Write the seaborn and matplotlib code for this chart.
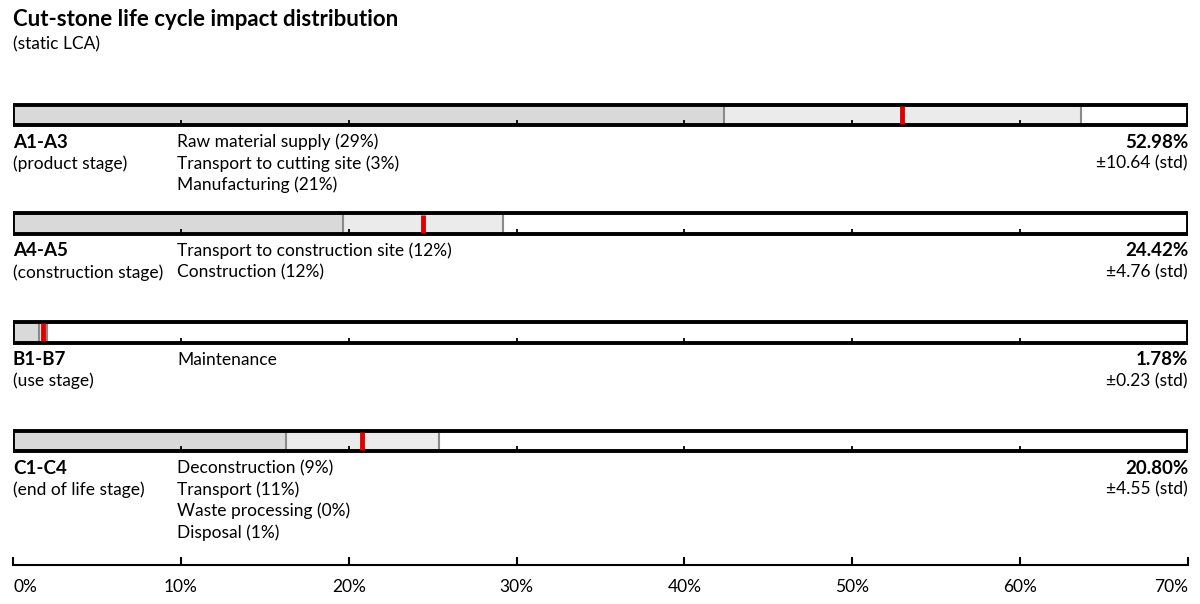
import matplotlib
matplotlib.use("Agg")
import matplotlib.pyplot as plt
import seaborn as sns
import pandas as pd

# life cycle stages, mean share of total impact and its std (in %)
stages = ["A1-A3", "A4-A5", "B1-B7", "C1-C4"]
stage_names = ["(product stage)", "(construction stage)", "(use stage)", "(end of life stage)"]
means = [52.98, 24.42, 1.78, 20.80]
stds = [10.64, 4.76, 0.23, 4.55]
processes = [
    ["Raw material supply (29%)", "Transport to cutting site (3%)", "Manufacturing (21%)"],
    ["Transport to construction site (12%)", "Construction (12%)"],
    ["Maintenance"],
    ["Deconstruction (9%)", "Transport (11%)", "Waste processing (0%)", "Disposal (1%)"],
]
x_ticks = [0, 10, 20, 30, 40, 50, 60, 70]
x_max = 70

sns.set_theme(style="white")
plt.rcParams["font.family"] = ["Lato", "DejaVu Sans"]
plt.rcParams["text.color"] = "black"
plt.rcParams["xtick.color"] = "black"
plt.rcParams["xtick.labelcolor"] = "black"

df = pd.DataFrame({
    "pos": range(len(stages)),
    "mean": means,
    "low": [m - s for m, s in zip(means, stds)],
    "high": [m + s for m, s in zip(means, stds)],
    "full": [x_max] * len(stages),
})

fig = plt.figure(figsize=(12, 6.04), dpi=100)
ax = fig.add_axes([13 / 1200, 39 / 604, 1175 / 1200, 465 / 604])

bar_h = 0.19
common = dict(data=df, y="pos", orient="h", native_scale=True, width=bar_h, ax=ax)
sns.barplot(x="full", color="white", edgecolor="none", **common)
sns.barplot(x="high", color="#ebebeb", edgecolor="#8a8a8a", linewidth=1.5, **common)
sns.barplot(x="low", color="#d9d9d9", edgecolor="#8a8a8a", linewidth=1.5, **common)
# outline box on top
sns.barplot(x="full", fill=False, edgecolor="black", linewidth=2.8, **common)

# small ticks inside each bar
for p in df["pos"]:
    ax.vlines(x_ticks[1:-1], p + bar_h / 2 - 0.045, p + bar_h / 2, color="black", lw=1.3, zorder=5)
# mean marker
ax.vlines(df["mean"], df["pos"] - bar_h / 2 + 0.012, df["pos"] + bar_h / 2 - 0.012,
          color="#e00000", lw=3.5, zorder=6)

ax.set_xlim(0, x_max)
ax.set_ylim(4.141, -0.138)
ax.set_xticks(x_ticks)
ax.set_xticklabels([f"{t}%" for t in x_ticks], fontsize=12.5)
labels = ax.get_xticklabels()
labels[0].set_horizontalalignment("left")
labels[-1].set_horizontalalignment("right")
ax.set_yticks([])
ax.set_xlabel("")
ax.set_ylabel("")
for side in ["top", "left", "right"]:
    ax.spines[side].set_visible(False)
ax.spines["bottom"].set_linewidth(1.5)
ax.spines["bottom"].set_color("black")
ax.tick_params(axis="x", direction="in", length=6, width=1.5, color="black", pad=10, bottom=True)

line = 0.197
for i, p in enumerate(df["pos"]):
    y0 = p + 0.25
    ax.text(0, y0, stages[i], fontsize=13.5, fontweight="bold", va="center", ha="left")
    ax.text(0, y0 + line, stage_names[i], fontsize=12.5, va="center", ha="left")
    for k, name in enumerate(processes[i]):
        ax.text(9.77, y0 + k * line, name, fontsize=12.5, va="center", ha="left")
    ax.text(x_max, y0, f"{means[i]:.2f}%", fontsize=13.5, fontweight="bold", va="center", ha="right")
    ax.text(x_max, y0 + line, f"\u00b1{stds[i]:.2f} (std)", fontsize=12.5, va="center", ha="right")

fig.text(13 / 1200, 1 - 19 / 604, "Cut-stone life cycle impact distribution",
         fontsize=16, fontweight="bold", va="center", ha="left")
fig.text(13 / 1200, 1 - 44 / 604, "(static LCA)", fontsize=12.5, va="center", ha="left")

fig.savefig("out.png", dpi=100)
